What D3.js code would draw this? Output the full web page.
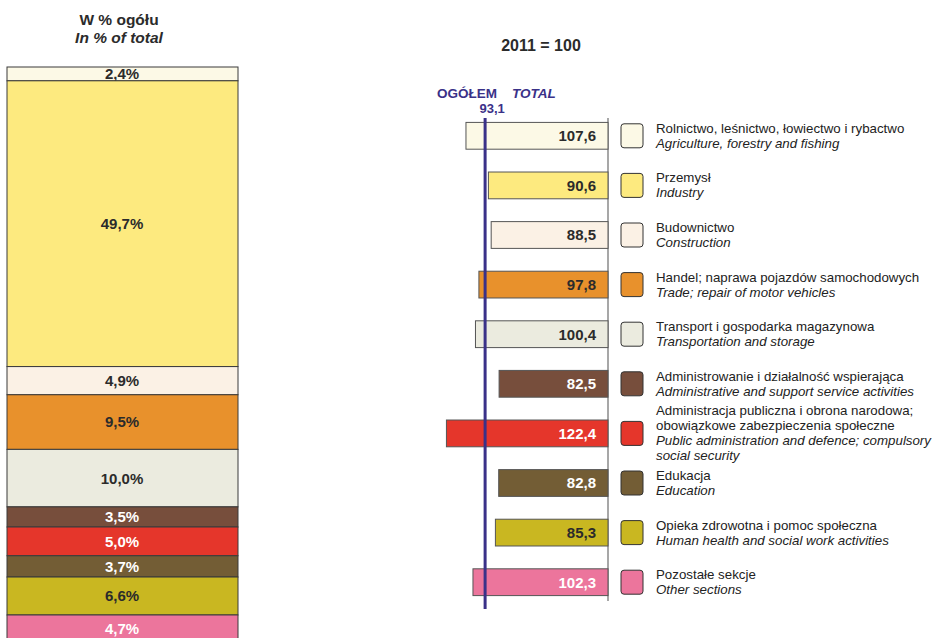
<!DOCTYPE html>
<html>
<head>
<meta charset="utf-8">
<script src="https://cdn.jsdelivr.net/npm/d3@7"></script>
<style>
  body { margin: 0; background: #fff; }
  svg { display: block; font-family: "Liberation Sans", Arial, sans-serif; }
</style>
</head>
<body>
<svg id="chart" width="935" height="638"></svg>
<script>
/* Data */
var sectors = ['agri', 'industry', 'constr', 'trade', 'transport', 'adminSupport', 'publicAdmin', 'education', 'health', 'other'];
var shares = [2.4, 49.7, 4.9, 9.5, 10.0, 3.5, 5.0, 3.7, 6.6, 4.7];
var indexValues = [107.6, 90.6, 88.5, 97.8, 100.4, 82.5, 122.4, 82.8, 85.3, 102.3];
var totalIndex = 93.1;
var colors = ['#fcf9e6', '#fdea7f', '#fbf1e5', '#e8912c', '#ebebdf', '#774e3c', '#e5362b', '#735d35', '#c9b721', '#ec759c'];
var labelColors = ['#2b2b2b', '#2b2b2b', '#2b2b2b', '#2b2b2b', '#2b2b2b', '#fff', '#fff', '#fff', '#2b2b2b', '#fff'];
var legendPl = [
  ['Rolnictwo, leśnictwo, łowiectwo i rybactwo'],
  ['Przemysł'],
  ['Budownictwo'],
  ['Handel; naprawa pojazdów samochodowych'],
  ['Transport i gospodarka magazynowa'],
  ['Administrowanie i działalność wspierająca'],
  ['Administracja publiczna i obrona narodowa;', 'obowiązkowe zabezpieczenia społeczne'],
  ['Edukacja'],
  ['Opieka zdrowotna i pomoc społeczna'],
  ['Pozostałe sekcje']
];
var legendEn = [
  ['Agriculture, forestry and fishing'],
  ['Industry'],
  ['Construction'],
  ['Trade; repair of motor vehicles'],
  ['Transportation and storage'],
  ['Administrative and support service activities'],
  ['Public administration and defence; compulsory', 'social security'],
  ['Education'],
  ['Human health and social work activities'],
  ['Other sections']
];

var fmt = function(v) { return d3.format('.1f')(v).replace('.', ','); };
var svg = d3.select('#chart');

/* Left: stacked share bar */
var cum = d3.cumsum(shares);
var stackY = d3.scaleLinear().domain([0, 100]).range([67, 642]);

var left = svg.append('g');
left.append('text')
    .attr('x', 119).attr('y', 25)
    .attr('text-anchor', 'middle')
    .style('font-weight', 'bold').style('font-size', '15.5px').style('fill', '#2b2b2b')
    .text('W % ogółu');
left.append('text')
    .attr('x', 119).attr('y', 43)
    .attr('text-anchor', 'middle')
    .style('font-weight', 'bold').style('font-style', 'italic').style('font-size', '15.5px').style('fill', '#2b2b2b')
    .text('In % of total');

var seg = left.selectAll('g.seg')
    .data(sectors)
    .enter().append('g').attr('class', 'seg');

seg.append('rect')
    .attr('x', 7).attr('width', 231)
    .attr('y', function(d, i) { return stackY(cum[i] - shares[i]); })
    .attr('height', function(d, i) { return stackY(cum[i]) - stackY(cum[i] - shares[i]); })
    .style('fill', function(d, i) { return colors[i]; })
    .style('stroke', '#3a3a3a').style('stroke-width', 1);

seg.append('text')
    .attr('x', 122)
    .attr('y', function(d, i) { return (stackY(cum[i] - shares[i]) + stackY(cum[i])) / 2; })
    .attr('dy', '0.36em')
    .attr('text-anchor', 'middle')
    .style('font-weight', 'bold').style('font-size', '15px')
    .style('fill', function(d, i) { return labelColors[i]; })
    .text(function(d, i) { return fmt(shares[i]) + '%'; });

/* Right: index bars (2011 = 100) */
var x = d3.scaleLinear().domain([0, 100]).range([608, 476]);
var row = d3.scaleBand().domain(sectors).range([111, 607]).paddingInner(0.46).paddingOuter(0.23);

var right = svg.append('g');
right.append('text')
    .attr('x', 541).attr('y', 51)
    .attr('text-anchor', 'middle')
    .style('font-weight', 'bold').style('font-size', '16px').style('fill', '#2b2b2b')
    .text('2011 = 100');

right.append('line')
    .attr('x1', x(0)).attr('x2', x(0))
    .attr('y1', 118).attr('y2', 601)
    .style('stroke', '#8a8a8a').style('stroke-width', 1.5);

var bars = right.selectAll('g.bar')
    .data(sectors)
    .enter().append('g').attr('class', 'bar');

bars.append('rect')
    .attr('x', function(d, i) { return x(indexValues[i]); })
    .attr('y', function(d) { return row(d); })
    .attr('width', function(d, i) { return x(0) - x(indexValues[i]); })
    .attr('height', row.bandwidth())
    .style('fill', function(d, i) { return colors[i]; })
    .style('stroke', '#555').style('stroke-width', 1);

bars.append('text')
    .attr('x', x(0) - 12)
    .attr('y', function(d) { return row(d) + row.bandwidth() / 2; })
    .attr('dy', '0.36em')
    .attr('text-anchor', 'end')
    .style('font-weight', 'bold').style('font-size', '15px')
    .style('fill', function(d, i) { return labelColors[i]; })
    .text(function(d, i) { return fmt(indexValues[i]); });

// total reference line
var navy = '#3a3188';
right.append('line')
    .attr('x1', x(totalIndex)).attr('x2', x(totalIndex))
    .attr('y1', 118).attr('y2', 609)
    .style('stroke', navy).style('stroke-width', 3);
right.append('text')
    .attr('x', 437).attr('y', 98)
    .style('font-weight', 'bold').style('font-size', '13.5px').style('fill', navy)
    .text('OGÓŁEM');
right.append('text')
    .attr('x', 512).attr('y', 98)
    .style('font-weight', 'bold').style('font-style', 'italic').style('font-size', '13.5px').style('fill', navy)
    .text('TOTAL');
right.append('text')
    .attr('x', x(totalIndex) + 7).attr('y', 113)
    .attr('text-anchor', 'middle')
    .style('font-weight', 'bold').style('font-size', '13px').style('fill', navy)
    .text(fmt(totalIndex));

/* Legend */
var leg = svg.selectAll('g.leg')
    .data(sectors)
    .enter().append('g').attr('class', 'leg')
    .attr('transform', function(d) { return 'translate(0,' + (row(d) + row.bandwidth() / 2) + ')'; });

leg.append('rect')
    .attr('x', 621).attr('y', -12)
    .attr('width', 22).attr('height', 24)
    .attr('rx', 3)
    .style('fill', function(d, i) { return colors[i]; })
    .style('stroke', '#333').style('stroke-width', 1);

leg.append('text')
    .style('font-size', '13.3px').style('fill', '#222')
    .each(function(d, i) {
      var lines = legendPl[i].map(function(t) { return { t: t, it: false }; })
          .concat(legendEn[i].map(function(t) { return { t: t, it: true }; }));
      var y0 = -(lines.length - 1) * 15 / 2 + 4.5;
      d3.select(this).selectAll('tspan')
          .data(lines)
          .enter().append('tspan')
          .attr('x', 656)
          .attr('y', function(l, k) { return y0 + k * 15; })
          .style('font-style', function(l) { return l.it ? 'italic' : 'normal'; })
          .text(function(l) { return l.t; });
    });
</script>
</body>
</html>
